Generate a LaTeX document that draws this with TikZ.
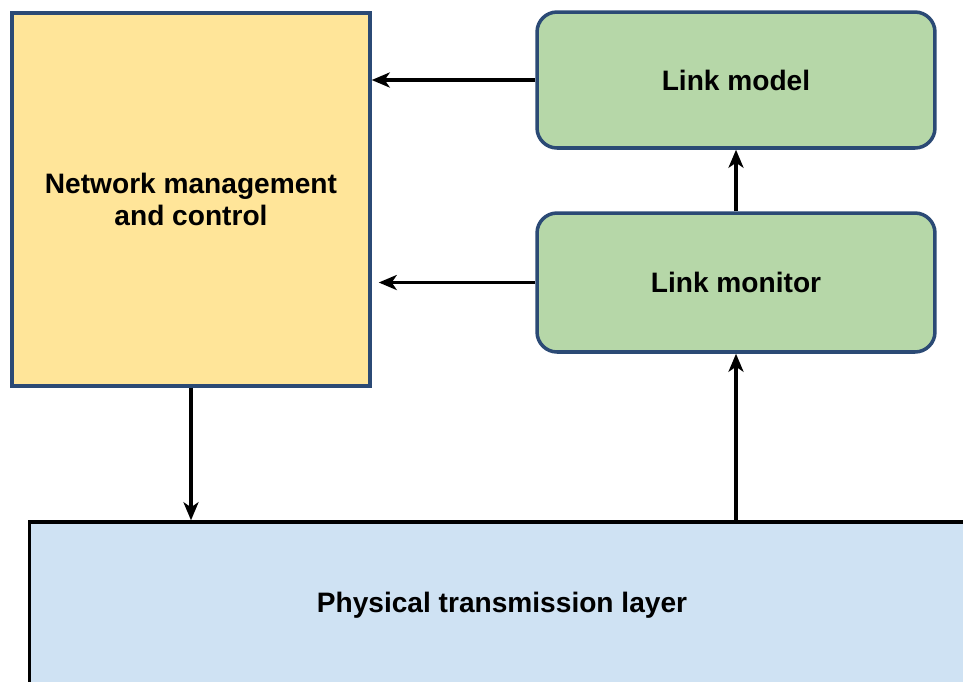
\documentclass[tikz,border=0pt]{standalone}
\usepackage{fontspec}
\setsansfont{Liberation Sans}
\usetikzlibrary{arrows.meta, positioning}
\usepackage{xcolor}
\definecolor{boxedge}{HTML}{2B4A75}
\definecolor{nmcfill}{HTML}{FFE599}
\definecolor{linkfill}{HTML}{B6D7A8}
\definecolor{physfill}{HTML}{CFE2F3}

\begin{document}
\begin{tikzpicture}[
    x=0.02cm, y=-0.02cm,
    control/.style={rectangle, draw=boxedge, fill=nmcfill, line width=2pt, minimum width=7.16cm, minimum height=7.46cm, align=center, font=\sffamily\bfseries\fontsize{16}{18.2}\selectfont},
    linkbox/.style={rectangle, rounded corners=0.4cm, draw=boxedge, fill=linkfill, line width=2pt, minimum width=7.96cm, font=\sffamily\bfseries\fontsize{16}{18.2}\selectfont},
    layer/.style={rectangle, draw=black, fill=physfill, line width=2pt, minimum width=18.9cm, minimum height=3.32cm, font=\sffamily\bfseries\fontsize{16}{18.2}\selectfont},
    flow/.style={line width=2pt, -{Stealth[length=0.36cm, width=0.3cm, inset=0.1cm]}},
]
\useasboundingbox (0,0) rectangle (963,681);
\clip (0,0) rectangle (963,681);

% Blocks
\node[control] (nmc) at (191, 199.5) {Network management\\and control};
\node[linkbox, minimum height=2.72cm] (model) at (736, 80) {Link model};
\node[linkbox, minimum height=2.78cm] (monitor) at (736, 282.5) {Link monitor};
\node[layer] (phys) at (502, 605) {Physical transmission layer};

% Arrows
\draw[flow] (model.west) -- (model.west -| nmc.east);
\draw[flow] (monitor.west) -- ([xshift=4pt]monitor.west -| nmc.east);
\draw[flow] (monitor.north) -- (model.south);
\draw[flow] (monitor.south |- phys.north) -- (monitor.south);
\draw[flow] (nmc.south) -- (nmc.south |- phys.north);

\end{tikzpicture}
\end{document}
